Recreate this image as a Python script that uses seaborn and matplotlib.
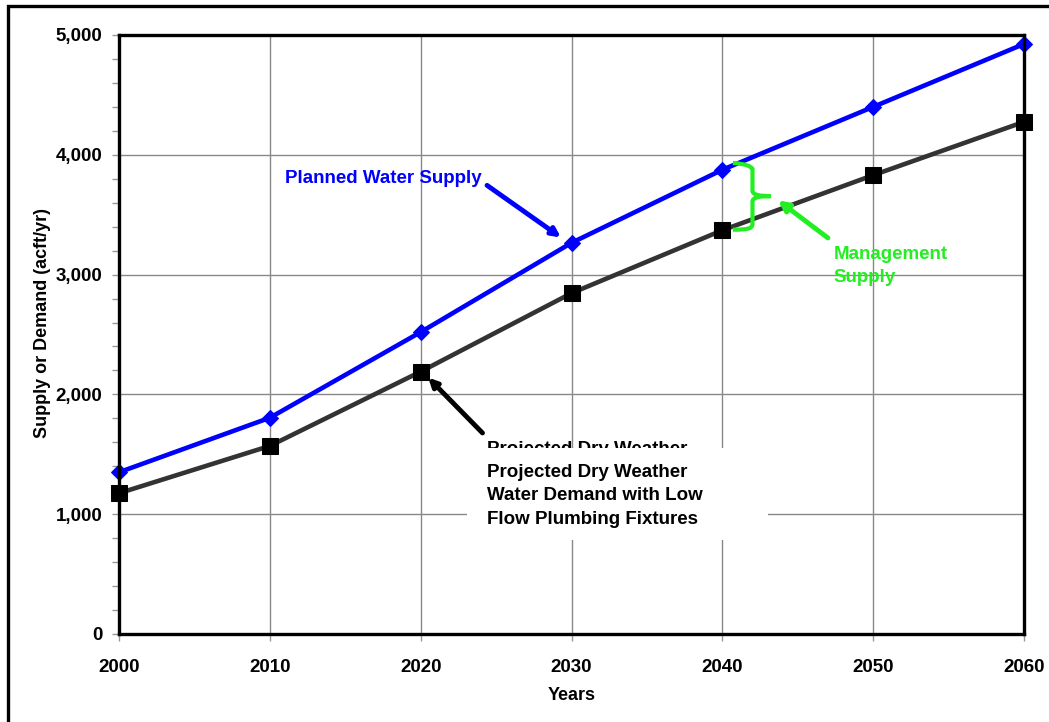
import numpy as np
import pandas as pd
import matplotlib
matplotlib.use("Agg")
import matplotlib.pyplot as plt
from matplotlib.patches import Rectangle, PathPatch
from matplotlib.path import Path
from matplotlib.ticker import MultipleLocator, FuncFormatter
import seaborn as sns

# values
years = [2000, 2010, 2020, 2030, 2040, 2050, 2060]
planned_supply = [1350, 1805, 2520, 3265, 3875, 4400, 4925]
dry_demand = [1175, 1570, 2190, 2845, 3370, 3830, 4275]

supply_label = "Planned Water Supply"
demand_label = "Projected Dry Weather\nWater Demand with Low\nFlow Plumbing Fixtures"
mgmt_label = "Management\nSupply"

sns.set_style("white")
plt.rcParams['font.family'] = ['Liberation Sans', 'DejaVu Sans']
plt.rcParams['font.weight'] = 'bold'
plt.rcParams['text.color'] = 'black'
plt.rcParams['axes.labelcolor'] = 'black'
plt.rcParams['xtick.labelcolor'] = 'black'
plt.rcParams['ytick.labelcolor'] = 'black'

df = pd.DataFrame({"Years": years, "supply": planned_supply, "demand": dry_demand})

fig = plt.figure(figsize=(10.49, 7.22), dpi=100)
ax = fig.add_axes([119 / 1049, 88 / 722, 905 / 1049, 599 / 722])

sns.lineplot(data=df, x="Years", y="demand", ax=ax, color="#333333", lw=3.3,
             marker="s", markersize=11, mfc="black", mec="black", clip_on=False, zorder=5)
sns.lineplot(data=df, x="Years", y="supply", ax=ax, color="#0000ff", lw=3.3,
             marker="D", markersize=8, mfc="#0000ff", mec="#0000ff", clip_on=False, zorder=6)

ax.set_xlim(2000, 2060)
ax.set_ylim(0, 5000)
ax.set_xticks(years)
ax.yaxis.set_major_locator(MultipleLocator(1000))
ax.yaxis.set_minor_locator(MultipleLocator(200))
ax.yaxis.set_major_formatter(FuncFormatter(lambda v, p: f"{int(v):,}"))
ax.grid(True, which="major", color="#888888", lw=1)
ax.set_axisbelow(True)
ax.tick_params(axis="y", which="both", direction="out", left=True, length=5,
               color="#999999", width=1, pad=7, labelsize=13.5)
ax.tick_params(axis="x", which="major", direction="out", bottom=True, length=5,
               color="#999999", width=1, pad=13, labelsize=13.5)
for lab in ax.get_xticklabels() + ax.get_yticklabels():
    lab.set_fontweight("bold")
for s in ax.spines.values():
    s.set_color("black")
    s.set_linewidth(2.4)
    s.set_zorder(7)

ax.set_xlabel("Years", fontsize=13, fontweight="bold", labelpad=8)
ax.set_ylabel("Supply or Demand (acft/yr)", fontsize=13, fontweight="bold")
ax.yaxis.set_label_coords(-0.075, 0.52)

# planned supply label + arrow
ax.text(2011.0, 3806, supply_label, color="#0000ff", fontsize=13.5, fontweight="bold",
        ha="left", va="center")
ax.annotate("", xy=(2029.3, 3310), xytext=(2024.4, 3745),
            arrowprops=dict(arrowstyle="-|>,head_length=0.5,head_width=0.25",
                            color="#0000ff", lw=3.5, shrinkA=0, shrinkB=0))

# demand label (a half-hidden copy sits behind a white box, as in the source)
ax.text(2024.4, 1611, "Projected Dry Weather", fontsize=13.5, fontweight="bold",
        ha="left", va="top", zorder=2.5)
ax.add_patch(Rectangle((2023.1, 785), 19.9, 768, facecolor="white", edgecolor="none", zorder=3))
ax.text(2024.4, 1155, demand_label, fontsize=13.5, fontweight="bold",
        ha="left", va="center", linespacing=1.5, zorder=4)
ax.annotate("", xy=(2020.5, 2140), xytext=(2024.1, 1678),
            arrowprops=dict(arrowstyle="-|>,head_length=0.5,head_width=0.25",
                            color="black", lw=3.5, shrinkA=0, shrinkB=0))

# management supply brace
green = "#22ee22"
verts = [(2040.7, 3932), (2041.9, 3920), (2042.0, 3880),
         (2042.0, 3700),
         (2042.0, 3665), (2042.5, 3655), (2043.2, 3655),
         (2042.5, 3655), (2042.0, 3645), (2042.0, 3610),
         (2042.0, 3430),
         (2042.0, 3390), (2041.9, 3375), (2040.7, 3375)]
codes = [Path.MOVETO, Path.CURVE3, Path.CURVE3,
         Path.LINETO,
         Path.CURVE4, Path.CURVE4, Path.CURVE4,
         Path.CURVE4, Path.CURVE4, Path.CURVE4,
         Path.LINETO,
         Path.CURVE4, Path.CURVE4, Path.CURVE4]
ax.add_patch(PathPatch(Path(verts, codes), facecolor="none", edgecolor=green, lw=3, zorder=8))
ax.annotate("", xy=(2043.7, 3620), xytext=(2047.0, 3306),
            arrowprops=dict(arrowstyle="-|>,head_length=0.6,head_width=0.3",
                            color=green, lw=3.5, shrinkA=0, shrinkB=0), zorder=8)
ax.text(2047.4, 3075, mgmt_label, color=green, fontsize=13.5, fontweight="bold",
        ha="left", va="center", linespacing=1.45)

# outer frame of the source figure
fig.add_artist(Rectangle((8 / 1049, -0.1), 1.2, 1.1 - 5.5 / 722, transform=fig.transFigure,
                         facecolor="none", edgecolor="black", lw=2.4, clip_on=False))

fig.savefig("out.png", dpi=100)
